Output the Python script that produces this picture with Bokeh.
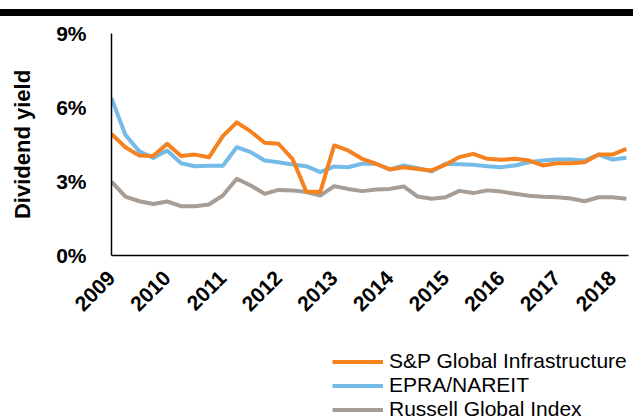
from bokeh.plotting import figure
from bokeh.models import (Range1d, FixedTicker, Legend, LegendItem, Div)
from bokeh.layouts import column
from bokeh.embed import file_html
from bokeh.resources import INLINE

# Quarterly dividend yields (%) from 2009 Q1 to 2018 Q2
quarters = list(range(38))
year_labels = ["2009", "2010", "2011", "2012", "2013", "2014", "2015", "2016", "2017", "2018"]
sp_infra = [4.93, 4.39, 4.05, 4.03, 4.53, 4.03, 4.09, 3.98, 4.84, 5.40,
            5.03, 4.57, 4.53, 3.92, 2.59, 2.57, 4.46, 4.26, 3.92, 3.72,
            3.49, 3.58, 3.51, 3.45, 3.68, 3.99, 4.12, 3.92, 3.88, 3.92,
            3.85, 3.65, 3.74, 3.74, 3.78, 4.09, 4.09, 4.32]
epra_nareit = [6.38, 4.89, 4.22, 3.95, 4.26, 3.74, 3.62, 3.64, 3.64, 4.39,
               4.19, 3.85, 3.78, 3.69, 3.62, 3.38, 3.61, 3.58, 3.72, 3.72,
               3.49, 3.65, 3.54, 3.41, 3.72, 3.70, 3.68, 3.62, 3.58, 3.65,
               3.78, 3.85, 3.89, 3.89, 3.85, 4.09, 3.89, 3.96]
russell = [3.00, 2.39, 2.20, 2.09, 2.19, 2.00, 2.00, 2.07, 2.43, 3.11,
           2.84, 2.50, 2.66, 2.64, 2.57, 2.43, 2.81, 2.70, 2.61, 2.68,
           2.70, 2.80, 2.39, 2.30, 2.36, 2.62, 2.53, 2.64, 2.59, 2.50,
           2.42, 2.38, 2.36, 2.31, 2.20, 2.36, 2.36, 2.30]
y_ticks = [0, 3, 6, 9]
y_labels = ["0%", "3%", "6%", "9%"]
series_names = ["S&P Global Infrastructure", "EPRA/NAREIT", "Russell Global Index"]
colors = ["#F5821F", "#75BBE8", "#A59D96"]

FONT = "Liberation Sans"

bar = Div(text='<div style="margin-top:9px;height:7px;background:#000000;width:633px"></div>',
          width=633, height=17, margin=(0, 0, 0, 0))

p = figure(width=633, height=328, output_backend="svg", toolbar_location=None,
           x_range=Range1d(0, 37.15), y_range=Range1d(0, 9),
           min_border_left=111, min_border_right=5, min_border_top=16,
           min_border_bottom=90, outline_line_color=None)
p.grid.visible = False

series = [russell, epra_nareit, sp_infra]
series_colors = [colors[2], colors[1], colors[0]]
for vals, c in zip(series, series_colors):
    p.line(quarters, vals, line_color=c, line_width=4, line_join="round")

xa = p.xaxis[0]
xa.ticker = FixedTicker(ticks=[4 * i for i in range(len(year_labels))])
xa.major_label_overrides = {4 * i: lab for i, lab in enumerate(year_labels)}
xa.major_label_orientation = 0.785398
xa.major_tick_line_color = None
xa.minor_tick_line_color = None
xa.axis_line_color = "black"
xa.axis_line_width = 1.5
xa.major_label_text_font = FONT
xa.major_label_text_font_style = "bold"
xa.major_label_text_font_size = "21px"
xa.major_label_text_color = "black"
xa.major_label_standoff = 13

ya = p.yaxis[0]
ya.ticker = FixedTicker(ticks=y_ticks)
ya.major_label_overrides = {t: l for t, l in zip(y_ticks, y_labels)}
ya.major_tick_line_color = None
ya.minor_tick_line_color = None
ya.axis_line_color = "black"
ya.axis_line_width = 1.5
ya.major_label_text_font = FONT
ya.major_label_text_font_style = "bold"
ya.major_label_text_font_size = "21px"
ya.major_label_text_color = "black"
ya.major_label_standoff = 19
ya.axis_label = "Dividend yield"
ya.axis_label_text_font = FONT
ya.axis_label_text_font_style = "bold"
ya.axis_label_text_font_size = "22px"
ya.axis_label_text_color = "black"
ya.axis_label_standoff = 18

# legend figure below the chart (its series sit outside its visible range)
pl = figure(width=633, height=74, output_backend="svg", toolbar_location=None,
            x_axis_type=None, y_axis_type=None,
            x_range=Range1d(-20, -19), y_range=Range1d(0, 1),
            min_border_left=111, min_border_right=5, min_border_top=0,
            min_border_bottom=0, outline_line_color=None)
pl.grid.visible = False
leg_renderers = [pl.line(quarters, vals, line_color=c, line_width=4)
                 for vals, c in zip([sp_infra, epra_nareit, russell], colors)]
items = [LegendItem(label=n, renderers=[r]) for n, r in zip(series_names, leg_renderers)]
legend = Legend(items=items, location=(221, -2), orientation="vertical",
                padding=0, margin=0, spacing=0, border_line_color=None,
                background_fill_alpha=0, glyph_width=51, glyph_height=23,
                label_height=23, label_standoff=6,
                label_text_font=FONT, label_text_font_size="21px",
                label_text_color="black")
pl.add_layout(legend, "center")

layout = column(bar, p, pl, spacing=0)
open("out.html", "w").write(file_html(layout, INLINE))
